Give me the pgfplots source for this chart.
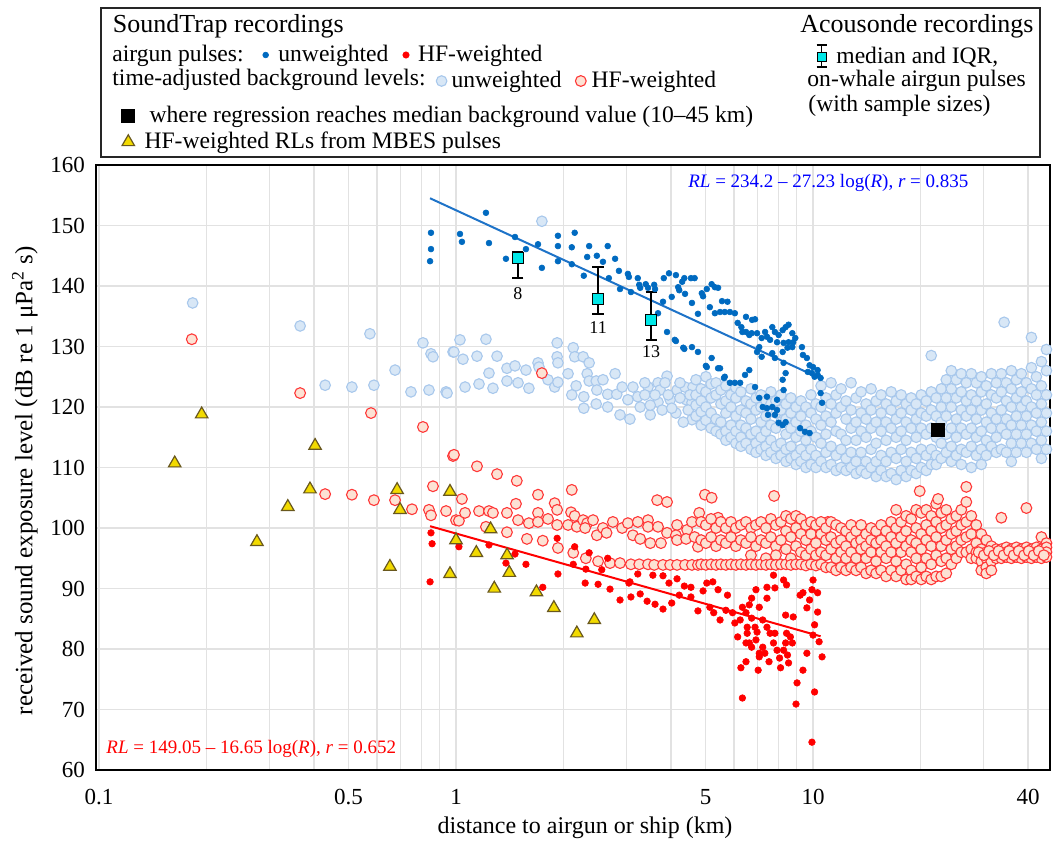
\documentclass[border=0pt]{standalone}
\usepackage{pgfplots}
\pgfplotsset{compat=1.18}
\usepackage{fontspec}
\setmainfont{Liberation Serif}

\definecolor{puU}{RGB}{0,106,192}
\definecolor{puH}{RGB}{255,0,0}
\definecolor{bgUfill}{RGB}{216,231,246}
\definecolor{bgUdraw}{RGB}{168,200,236}
\definecolor{bgHfill}{RGB}{252,226,212}
\definecolor{bgHdraw}{RGB}{255,55,55}
\definecolor{trifill}{RGB}{242,218,0}
\definecolor{triedge}{RGB}{105,88,30}
\definecolor{gridc}{RGB}{226,226,226}
\definecolor{lineU}{RGB}{30,115,200}
\definecolor{boxc}{RGB}{0,232,232}

\pgfplotsset{
  bgU/.style={only marks, mark=*, mark size=2.65pt, mark options={fill=bgUfill, draw=bgUdraw, line width=0.55pt}},
  bgH/.style={only marks, mark=*, mark size=2.7pt, mark options={fill=bgHfill, draw=bgHdraw, line width=0.55pt}},
  puUs/.style={only marks, mark=*, mark size=1.45pt, mark options={fill=puU, draw=puU, line width=0.3pt}},
  puHs/.style={only marks, mark=*, mark size=1.65pt, mark options={fill=puH, draw=puH, line width=0.3pt}},
  mbes/.style={only marks, mark=triangle*, mark size=3.6pt, mark options={fill=trifill, draw=triedge, line width=0.6pt}},
}

\newcommand{\LegEntry}[5]{%
\begin{axis}[hide axis, scale only axis, width=477pt, height=302.5pt, at={(0pt,0pt)}, anchor=south west,
  xmin=0, xmax=1, ymin=0, ymax=1,
  legend style={at={(#1,#2)}, anchor=west, draw=none, fill=none, inner sep=0pt, outer sep=0pt,
    column sep=#5, font=\fontsize{11.8}{14}\selectfont, nodes={inner sep=2pt}},
  legend cell align=left,
  legend image code/.code={\draw[##1] plot coordinates {(0pt,0pt)};}]
\addlegendimage{#3}
\addlegendentry{#4}
\end{axis}}

\begin{document}
\begin{tikzpicture}
\useasboundingbox (-48pt,-35.5pt) rectangle (478.5pt,385pt);

\begin{axis}[
  scale only axis, width=477pt, height=302.5pt, at={(0pt,0pt)}, anchor=south west,
  xmode=log, xmin=0.0981, xmax=46.1, ymin=60, ymax=160,
  xtick={0.1,0.5,1,5,10,40}, xticklabels={0.1,0.5,1,5,10,40},
  minor xtick={0.2,0.3,0.4,0.6,0.7,0.8,0.9,2,3,4,6,7,8,9,20,30},
  ytick={60,70,...,160},
  xmajorgrids, xminorgrids, ymajorgrids,
  major grid style={gridc, line width=0.75pt},
  minor grid style={gridc, line width=0.75pt},
  tick style={draw=none},
  axis line style={black, line width=0.9pt},
  /pgf/number format/assume math mode=true,
  tick label style={font=\fontsize{11.5}{13}\selectfont},
  xticklabel style={yshift=-6pt},
  yticklabel style={xshift=-2pt},
  xlabel={distance to airgun or ship (km)},
  ylabel={received sound exposure level (dB re 1 μPa\textsuperscript{2} s)},
  every axis x label/.style={at={(axis description cs:0.5126,-0.096)}, anchor=center, font=\fontsize{12}{14}\selectfont},
  every axis y label/.style={at={(axis description cs:-0.0745,0.478)}, anchor=center, rotate=90, font=\fontsize{12.5}{14}\selectfont},
]

% unweighted background (light blue circles)
\addplot[bgU] coordinates {
(0.183,137.2) (0.366,133.4) (0.574,132.1) (0.675,126.1) (0.430,123.6) (0.511,123.3) (0.589,123.6) (0.748,122.5) (0.840,122.8) (0.938,122.5) (0.808,130.6) (0.851,128.8) (0.862,128.3) (0.981,129.1)
(1.74,150.7)
(1.026,131.1) (0.987,129.1) (1.046,127.9) (1.145,128.4) (1.213,131.2) (1.237,125.6) (1.303,128.4) (1.269,123.1) (1.160,123.8) (1.060,123.3) (1.389,126.4) (1.389,124.3) (1.463,126.8) (1.492,124.0) (1.570,126.1) (1.600,123.1) (1.697,127.3) (1.708,126.6) (1.81,124.5) (1.89,123.3) (1.92,130.6) (1.92,128.3) (1.93,127.3) (1.93,124.1) (2.06,125.5) (2.13,129.8) (2.15,128.3) (2.17,123.5) (2.11,122.0) (2.27,128.3) (2.36,127.3) (2.33,125.5) (2.36,124.3) (2.28,121.7) (2.28,119.8) (2.47,124.3) (2.48,122.8) (2.47,120.5) (2.58,124.5) (2.66,122.1) (2.66,120.0) (2.79,125.5) (2.82,122.1) (2.92,123.3) (2.88,118.7) (3.03,121.2) (3.07,118.0) (3.13,123.3) (3.23,121.7) (3.28,120.0) (3.45,123.3) (3.50,118.7) (3.68,124.0) (3.73,122.8) (3.68,120.8) (3.90,125.1) (3.98,121.2) (4.16,122.8) (4.13,119.0) (4.38,123.3) (4.41,121.2) (4.61,123.3) (4.58,120.7) (4.58,117.9) (4.33,117.5) (0.944,122.3)
(3.38,122.0) (3.50,120.3) (3.61,122.0) (3.78,119.5) (3.93,122.0) (4.02,119.8) (4.24,121.5) (4.47,119.5) (4.52,122.0) (3.38,124.0) (3.85,124.0) (4.24,124.0)
(4.70,124.5) (4.70,122.0) (4.70,120.3) (4.70,118.5)
(4.86,123.0) (4.86,121.0) (4.86,119.2) (4.86,117.0)
(5.01,125.0) (5.01,122.5) (5.01,120.0) (5.01,117.8)
(5.18,123.8) (5.18,121.5) (5.18,119.0) (5.18,116.5)
(5.35,124.0) (5.35,122.0) (5.35,118.0) (5.35,116.0)
(5.52,122.8) (5.52,120.5) (5.52,117.5) (5.52,115.5)
(5.70,123.5) (5.70,121.0) (5.70,119.0) (5.70,116.0) (5.70,114.5)
(5.89,122.0) (5.89,120.0) (5.89,117.0) (5.89,115.0)
(6.08,123.2) (6.08,121.5) (6.08,118.5) (6.08,116.0) (6.08,114.0)
(6.28,122.5) (6.28,119.5) (6.28,117.0) (6.28,115.0) (6.28,113.5)
(6.49,121.0) (6.49,119.0) (6.49,116.5) (6.49,114.0)
(6.70,123.0) (6.70,120.5) (6.70,118.0) (6.70,115.5) (6.70,113.0)
(6.92,121.5) (6.92,119.5) (6.92,116.0) (6.92,114.0) (6.92,112.5)
(7.15,122.0) (7.15,120.0) (7.15,117.5) (7.15,115.0) (7.15,113.0)
(7.38,121.0) (7.38,118.5) (7.38,116.0) (7.38,113.5) (7.38,112.0)
(7.62,122.5) (7.62,120.5) (7.62,117.0) (7.62,114.5) (7.62,112.5)
(7.87,121.0) (7.87,119.0) (7.87,116.5) (7.87,113.5) (7.87,111.5)
(8.13,122.0) (8.13,119.5) (8.13,117.5) (8.13,114.0) (8.13,112.0)
(8.40,120.5) (8.40,118.0) (8.40,115.5) (8.40,113.0) (8.40,111.0)
(8.67,121.5) (8.67,119.0) (8.67,116.5) (8.67,113.5) (8.67,111.5)
(8.96,120.0) (8.96,117.5) (8.96,115.0) (8.96,112.0) (8.96,110.5)
(9.25,121.0) (9.25,118.5) (9.25,116.0) (9.25,113.0) (9.25,111.0)
(9.55,120.0) (9.55,117.0) (9.55,114.5) (9.55,112.0) (9.55,110.0)
(9.87,122.0) (9.87,119.0) (9.87,116.0) (9.87,113.0) (9.87,110.5)
(10.19,120.5) (10.19,118.0) (10.19,115.0) (10.19,112.0) (10.19,110.0)
(10.53,123.5) (10.53,120.0) (10.53,117.0) (10.53,114.0) (10.53,111.0)
(10.87,121.5) (10.87,118.5) (10.87,115.5) (10.87,112.5) (10.87,110.0)
(11.23,124.0) (11.23,120.5) (11.23,117.5) (11.23,113.5) (11.23,110.5)
(11.60,122.0) (11.60,119.0) (11.60,116.0) (11.60,112.0) (11.60,109.5)
(11.98,123.0) (11.98,120.0) (11.98,115.5) (11.98,113.0) (11.98,110.0)
(12.37,121.0) (12.37,118.0) (12.37,114.5) (12.37,111.5) (12.37,109.5)
(12.78,124.0) (12.78,119.5) (12.78,116.5) (12.78,112.5) (12.78,110.0)
(13.20,121.5) (13.20,117.5) (13.20,114.5) (13.20,111.0) (13.20,109.0)
(13.63,122.5) (13.63,119.0) (13.63,116.0) (13.63,112.5) (13.63,109.5)
(14.08,120.5) (14.08,118.0) (14.08,115.0) (14.08,111.0) (14.08,109.0)
(14.54,123.0) (14.54,119.5) (14.54,116.5) (14.54,113.0) (14.54,110.0)
(15.02,121.0) (15.02,117.5) (15.02,114.0) (15.02,111.0) (15.02,108.5)
(15.51,122.0) (15.51,119.0) (15.51,116.0) (15.51,112.0) (15.51,109.5)
(16.02,120.5) (16.02,117.5) (16.02,114.5) (16.02,111.0) (16.02,108.5)
(16.55,122.5) (16.55,119.5) (16.55,116.5) (16.55,112.5) (16.55,109.0)
(17.09,121.0) (17.09,118.0) (17.09,115.0) (17.09,111.5) (17.09,108.0)
(17.65,122.0) (17.65,119.0) (17.65,116.0) (17.65,113.0) (17.65,109.5)
(18.23,120.5) (18.23,117.5) (18.23,114.5) (18.23,111.0) (18.23,108.5)
(18.83,121.5) (18.83,119.5) (18.83,116.5) (18.83,112.5) (18.83,109.5)
(19.45,120.5) (19.45,118.0) (19.45,115.0) (19.45,111.5) (19.45,109.0)
(20.09,122.0) (20.09,119.0) (20.09,116.5) (20.09,113.0) (20.09,110.0)
(20.75,121.0) (20.75,118.5) (20.75,115.5) (20.75,112.0) (20.75,109.5)
(21.43,128.5) (21.43,122.5) (21.43,119.5) (21.43,116.5) (21.43,113.0) (21.43,110.5)
(22.13,121.5) (22.13,118.5) (22.13,115.0) (22.13,112.0) (22.13,110.5)
(22.86,123.0) (22.86,120.0) (22.86,117.5) (22.86,114.0) (22.86,111.5)
(23.61,124.5) (23.61,121.5) (23.61,118.5) (23.61,115.5) (23.61,112.5)
(24.39,126.0) (24.39,123.0) (24.39,120.0) (24.39,116.5) (24.39,113.5) (24.39,111.0)
(25.19,124.5) (25.19,121.5) (25.19,118.0) (25.19,115.0) (25.19,112.0)
(26.01,125.5) (26.01,122.5) (26.01,119.5) (26.01,116.5) (26.01,113.0) (26.01,110.5)
(26.87,124.0) (26.87,121.0) (26.87,118.5) (26.87,115.5) (26.87,112.5)
(27.75,125.5) (27.75,122.0) (27.75,119.5) (27.75,116.5) (27.75,113.5) (27.75,110.0)
(28.66,124.0) (28.66,121.0) (28.66,118.0) (28.66,115.0) (28.66,112.0)
(29.60,125.0) (29.60,122.5) (29.60,119.5) (29.60,116.0) (29.60,113.0) (29.60,110.5)
(30.57,123.5) (30.57,120.5) (30.57,117.5) (30.57,114.5) (30.57,112.0)
(31.58,125.5) (31.58,122.0) (31.58,119.0) (31.58,116.5) (31.58,113.5)
(32.61,124.0) (32.61,121.5) (32.61,118.0) (32.61,115.0) (32.61,112.5)
(33.68,125.5) (33.68,122.5) (33.68,119.5) (33.68,116.5) (33.68,113.0)
(34.3,134.0)
(34.79,124.0) (34.79,121.0) (34.79,118.0) (34.79,115.5) (34.79,112.5)
(35.93,126.0) (35.93,123.0) (35.93,120.0) (35.93,117.0) (35.93,114.0) (35.93,111.0)
(37.11,124.5) (37.11,121.5) (37.11,118.5) (37.11,115.5) (37.11,112.5)
(38.33,125.5) (38.33,122.5) (38.33,120.0) (38.33,117.0) (38.33,114.0)
(39.59,124.0) (39.59,121.0) (39.59,118.5) (39.59,115.5) (39.59,112.5)
(40.89,131.5) (40.89,126.5) (40.89,123.0) (40.89,120.0) (40.89,117.0) (40.89,114.0)
(42.23,125.0) (42.23,122.0) (42.23,119.0) (42.23,116.0) (42.23,113.0)
(43.62,127.5) (43.62,123.5) (43.62,120.5) (43.62,117.5) (43.62,114.5) (43.62,111.5)
(45.05,129.5) (45.05,126.0) (45.05,122.0) (45.05,119.0) (45.05,116.0) (45.05,113.0)
};

% HF-weighted background (red circles)
\addplot[bgH] coordinates {
(0.182,131.2) (0.366,122.3) (0.578,119.0) (0.808,116.7) (0.981,111.9) (0.430,105.6) (0.511,105.5) (0.589,104.6) (0.675,104.6) (0.753,103.1) (0.840,103.0) (0.938,102.8) (0.862,106.9) (0.851,102.1) (1.0,101.3) (1.74,125.6)
(0.987,112.1) (1.145,110.2) (1.303,108.9) (1.48,107.8) (1.697,105.5) (2.11,106.3) (1.039,104.8) (1.019,101.2) (1.060,102.5) (1.160,102.8) (1.237,102.8) (1.269,102.5) (1.389,102.5) (1.472,104.0) (1.492,101.3) (1.213,100.2) (1.389,99.3) (1.600,100.8) (1.697,102.5) (1.697,101.0) (1.81,101.5) (1.89,104.1) (1.92,103.0) (1.92,100.5) (1.58,98.2) (1.75,97.9) (1.93,96.7) (2.10,102.6) (2.06,100.5) (2.18,100.2) (2.15,102.0) (2.27,101.3) (2.33,100.8) (2.30,100.0) (2.42,101.3) (2.48,98.8) (2.58,100.0) (2.64,99.2)
(2.13,95.9) (2.31,95.0) (2.50,94.5) (2.70,94.2) (2.88,94.2) (3.09,94.0) (3.26,94.0) (3.45,94.0) (3.59,93.9) (3.80,93.9) (3.98,93.9) (4.16,93.9) (4.38,93.9) (4.58,93.9) (4.76,93.9)
(2.75,101.0) (2.92,100.0) (3.03,100.8) (3.13,98.8) (3.28,98.2) (3.23,101.0) (3.45,101.3) (3.45,100.2) (3.50,97.5) (3.68,100.2) (3.75,97.5) (3.90,99.2) (4.16,100.5) (4.13,98.8) (4.16,98.0) (4.44,99.7) (4.41,98.2) (4.58,101.0) (4.66,98.5) (4.76,96.9) (3.66,104.6) (3.90,104.3) (4.98,105.5) (5.20,105.0) (7.78,105.3) (4.80,102.5) (5.42,101.7) (11.0,101.0)
(4.86,101.0) (4.86,98.0) (4.86,94.0)
(5.01,100.5) (5.01,97.5) (5.01,93.9)
(5.18,101.5) (5.18,98.5) (5.18,94.0)
(5.35,100.0) (5.35,97.0) (5.35,93.9)
(5.52,101.0) (5.52,98.0) (5.52,94.0)
(5.70,100.0) (5.70,97.5) (5.70,93.9)
(5.89,101.0) (5.89,98.5) (5.89,94.0)
(6.08,100.0) (6.08,97.0) (6.08,93.9)
(6.28,100.5) (6.28,98.0) (6.28,94.0)
(6.49,101.0) (6.49,97.5) (6.49,93.9)
(6.70,100.0) (6.70,98.5) (6.70,95.5) (6.70,94.0)
(6.92,100.5) (6.92,97.0) (6.92,93.9)
(7.15,101.0) (7.15,98.0) (7.15,94.0)
(7.38,100.0) (7.38,97.5) (7.38,95.0) (7.38,93.9)
(7.62,101.5) (7.62,98.5) (7.62,94.0)
(7.87,100.5) (7.87,97.0) (7.87,95.5) (7.87,93.9)
(8.13,101.0) (8.13,98.0) (8.13,94.0)
(8.40,102.0) (8.40,99.5) (8.40,96.5) (8.40,94.0)
(8.67,101.5) (8.67,98.5) (8.67,95.0) (8.67,93.9)
(8.96,102.0) (8.96,100.0) (8.96,97.0) (8.96,94.0)
(9.25,101.5) (9.25,99.0) (9.25,96.0) (9.25,94.0)
(9.55,100.5) (9.55,98.0) (9.55,95.5) (9.55,93.8)
(9.87,101.0) (9.87,99.0) (9.87,96.5) (9.87,94.0)
(10.19,100.5) (10.19,97.5) (10.19,95.5) (10.19,93.8)
(10.53,101.0) (10.53,99.0) (10.53,96.0) (10.53,94.0)
(10.87,100.0) (10.87,98.0) (10.87,95.5) (10.87,93.5)
(11.23,101.0) (11.23,98.5) (11.23,96.5) (11.23,93.5)
(11.60,100.5) (11.60,97.5) (11.60,95.0) (11.60,93.0)
(11.98,100.0) (11.98,98.0) (11.98,96.0) (11.98,93.5)
(12.37,99.5) (12.37,97.0) (12.37,95.0) (12.37,93.0)
(12.78,100.5) (12.78,98.5) (12.78,96.0) (12.78,93.5)
(13.20,99.5) (13.20,97.5) (13.20,95.0) (13.20,93.0)
(13.63,100.5) (13.63,98.0) (13.63,96.5) (13.63,93.5)
(14.08,99.0) (14.08,97.0) (14.08,95.0) (14.08,92.5)
(14.54,100.0) (14.54,98.0) (14.54,96.0) (14.54,93.0)
(15.02,99.5) (15.02,97.5) (15.02,94.5) (15.02,92.5)
(15.51,100.5) (15.51,98.0) (15.51,96.0) (15.51,93.0)
(16.02,99.5) (16.02,97.0) (16.02,95.0) (16.02,92.0)
(16.55,101.0) (16.55,98.5) (16.55,96.0) (16.55,93.0)
(17.09,103.0) (17.09,100.0) (17.09,97.5) (17.09,94.5) (17.09,92.0)
(17.65,101.0) (17.65,98.5) (17.65,96.0) (17.65,93.0)
(18.23,102.0) (18.23,99.5) (18.23,97.0) (18.23,94.0) (18.23,91.5)
(18.83,101.5) (18.83,98.0) (18.83,96.0) (18.83,93.0) (18.83,91.5)
(19.45,103.0) (19.45,100.0) (19.45,97.5) (19.45,95.0) (19.45,92.0)
(19.9,106.1)
(20.09,102.5) (20.09,99.0) (20.09,96.5) (20.09,93.5) (20.09,91.5)
(20.75,103.0) (20.75,100.5) (20.75,98.0) (20.75,95.0) (20.75,92.0)
(21.43,102.0) (21.43,99.5) (21.43,97.0) (21.43,94.0) (21.43,91.5)
(22.13,104.0) (22.13,101.0) (22.13,98.5) (22.13,95.5) (22.13,92.0)
(22.4,104.8)
(22.86,102.5) (22.86,100.0) (22.86,97.0) (22.86,94.5) (22.86,92.0)
(23.61,103.0) (23.61,100.5) (23.61,98.0) (23.61,95.0) (23.61,92.5)
(24.39,101.5) (24.39,99.0) (24.39,96.5) (24.39,94.0)
(25.19,102.0) (25.19,99.5) (25.19,97.0) (25.19,95.0)
(26.01,103.0) (26.01,100.5) (26.01,98.0) (26.01,96.0)
(26.87,106.8) (26.87,104.3) (26.87,101.0) (26.87,98.5) (26.87,96.0)
(27.75,102.0) (27.75,99.0) (27.75,96.5) (27.75,95.0)
(28.66,100.5) (28.66,97.5) (28.66,96.0) (28.66,95.0)
(29.60,99.0) (29.60,96.5) (29.60,95.5) (29.60,94.5) (29.60,93.0)
(30.57,98.0) (30.57,96.0) (30.57,95.0) (30.57,93.5) (30.57,92.5)
(31.58,97.0) (31.58,95.5) (31.58,94.5) (31.58,93.0)
(32.61,96.5) (32.61,95.8) (32.61,95.0)
(33.68,101.7) (33.68,96.5) (33.68,95.8) (33.68,95.0)
(34.79,96.8) (34.79,96.0) (34.79,95.2)
(35.93,96.5) (35.93,95.8) (35.93,95.0)
(37.11,96.8) (37.11,96.0) (37.11,95.2)
(38.33,96.5) (38.33,95.8) (38.33,95.0)
(39.59,103.3) (39.59,96.8) (39.59,96.0) (39.59,95.2)
(40.89,96.5) (40.89,95.8) (40.89,95.0)
(42.23,96.8) (42.23,96.0) (42.23,95.2)
(43.62,98.5) (43.62,96.5) (43.62,95.8) (43.62,95.0)
(45.05,97.5) (45.05,96.8) (45.05,96.0) (45.05,95.2)
(29.1,96.0) (30.1,95.5) (31.1,96.2) (32.1,95.5) (33.1,96.2) (34.2,95.5) (35.4,96.2) (36.5,95.5) (37.7,96.2) (39.0,95.5) (40.2,96.2) (41.5,95.5) (42.9,96.2) (44.3,95.5)
};

% unweighted airgun pulses (blue dots)
\addplot[puUs] coordinates {
(0.851,148.8) (0.851,146.1) (0.846,144.1) (1.026,148.6) (1.039,147.3) (1.213,152.1) (1.237,147.1) (1.380,144.5) (1.463,148.1) (1.570,146.1) (1.697,146.9) (1.740,143.0) (1.93,148.3) (1.93,146.6) (1.93,144.1) (2.11,146.4) (2.15,148.8) (2.11,143.6) (2.28,141.7) (2.33,144.8) (2.36,146.6) (2.48,145.0) (2.58,144.0) (2.66,146.6) (2.68,141.3) (2.79,144.5) (2.86,142.5) (2.88,139.5) (3.03,142.0) (3.05,141.5) (3.09,139.0) (3.23,141.3) (3.26,140.2) (3.28,139.7) (3.40,140.3) (3.45,139.7) (3.59,140.2) (3.61,139.5) (3.68,135.5) (3.80,137.4) (3.82,141.3) (3.90,132.4) (3.95,142.1) (4.13,130.9) (4.02,138.2) (4.36,129.6) (4.58,129.9) (4.76,129.1) (5.01,126.8) (5.20,128.1) (5.42,126.4)
(4.13,141.8) (4.30,140.7) (4.36,141.3) (4.55,141.3) (4.66,141.3) (4.19,139.8) (4.38,138.7) (4.58,137.2) (4.76,135.4) (4.88,138.8) (4.92,138.3) (5.04,139.5) (5.20,140.3) (5.31,139.8) (5.42,139.7) (5.14,136.5) (5.56,137.5) (5.76,137.4) (5.31,135.5) (5.49,135.7) (5.66,135.7) (5.85,135.7) (6.04,135.5) (6.15,133.9) (6.30,133.2) (6.49,134.9) (6.75,134.4) (6.88,134.5) (6.34,132.4) (6.49,132.4) (6.63,131.9) (6.73,132.2) (6.97,132.2) (7.18,131.4) (7.34,132.4) (7.43,131.6) (7.69,133.2) (7.82,132.4) (8.01,131.9) (8.22,132.7) (8.38,133.2) (8.54,133.6) (8.75,132.2) (8.92,131.4) (8.54,130.7) (8.27,130.6) (7.93,130.7) (7.58,131.1) (7.07,129.9) (6.97,129.1) (7.18,128.3) (7.69,128.9) (7.82,128.1) (8.22,129.1) (8.48,129.8) (8.75,129.9) (8.80,130.7) (9.31,129.9) (9.37,128.6) (9.61,128.1) (9.78,126.9) (10.0,126.6) (10.3,126.1) (10.3,125.3) (10.1,125.0) (10.5,124.8) (9.67,125.8) (9.93,125.6)
(5.04,126.6) (5.66,125.0) (5.85,124.0) (6.04,124.0) (6.25,124.0) (6.45,125.3) (6.63,126.1) (6.88,123.3) (7.07,121.5) (7.23,120.0) (7.43,119.8) (7.48,118.7) (7.69,120.0) (7.82,118.7) (8.01,117.4) (8.22,117.0) (8.38,117.5) (7.93,119.5) (7.43,121.7) (7.93,121.2) (8.27,122.8) (8.22,124.5) (8.38,125.6) (8.27,127.3) (9.20,116.5) (9.49,115.9) (9.78,115.7) (10.5,122.3) (10.6,120.7) (4.10,131.1) (4.33,129.8) (5.49,126.4) (5.63,124.8) (4.22,139.3)
};

% HF-weighted airgun pulses (red dots)
\addplot[puHs] coordinates {
(0.851,99.2) (0.857,97.4) (0.846,91.1) (1.019,96.9) (1.237,97.2) (1.380,94.2) (1.463,95.7) (1.570,94.0) (1.75,90.2) (1.92,98.3) (1.93,92.4) (2.13,94.0) (2.15,96.9) (2.30,90.9) (2.31,93.2) (2.36,95.9) (2.50,90.7) (2.56,93.1) (2.70,89.9) (2.66,95.0) (2.88,88.1) (3.05,90.9) (3.09,88.6) (3.28,89.1) (3.23,92.4) (3.43,87.9) (3.61,87.4) (3.80,92.1) (3.95,90.9) (4.02,87.6) (3.80,86.6) (4.16,91.6) (4.36,90.4) (4.55,90.2) (4.55,88.6) (4.76,86.3) (4.92,89.6) (5.04,90.9) (5.24,91.1) (5.42,89.8) (5.14,86.9) (5.27,86.0) (5.49,84.8) (5.76,88.9) (5.70,86.4) (5.95,86.0) (6.04,84.3) (6.15,82.0) (6.49,81.0) (6.49,77.9) (6.34,71.9) (6.34,86.9) (6.49,86.0) (6.63,87.3) (6.73,88.4) (6.92,89.8) (6.73,85.1) (6.88,83.6) (6.97,82.8) (6.92,81.5) (7.07,79.3) (7.02,76.5) (7.23,84.8) (7.43,83.6) (7.33,79.3) (7.53,77.9) (7.58,82.6) (7.75,81.0) (7.82,82.6) (7.93,79.8) (8.06,78.5) (8.11,76.9) (8.27,79.8) (8.38,81.0) (8.48,79.0) (8.54,77.7) (8.43,82.6) (8.64,82.0) (8.75,81.0) (8.38,85.6) (8.80,85.3) (9.20,88.9) (9.37,89.3) (9.61,86.8) (9.61,79.3) (9.37,76.5) (9.02,74.4) (8.96,70.9) (9.93,64.6) (9.78,88.1) (9.93,89.8) (10.0,91.4) (10.3,89.3) (10.3,86.1) (10.1,84.0) (10.4,81.2) (10.6,78.7) (10.0,82.3) (10.1,72.9) (7.43,90.2) (7.82,90.1) (7.75,92.2) (8.27,91.4) (8.43,90.6) (7.43,88.4) (7.07,86.9) (6.54,83.6) (6.25,84.8) (6.54,82.6) (6.63,81.0) (6.73,80.3) (7.07,78.7) (7.23,80.3) (3.07,91.1) (3.56,92.2) (4.22,88.9) (6.28,76.9)
};

% regression lines
\addplot[lineU, line width=1pt, no marks] coordinates {(0.846,154.5) (10.5,124.7)};
\addplot[puH, line width=1pt, no marks] coordinates {(0.846,100.3) (10.5,82.1)};

% MBES triangles
\addplot[mbes] coordinates {
(0.163,110.7) (0.194,118.8) (0.277,97.7) (0.338,103.5) (0.390,106.4) (0.403,113.6) (0.653,93.6) (0.684,106.3) (0.697,103.0) (0.962,106.0) (0.962,92.4) (1.0,98.0) (1.14,95.9) (1.25,99.8) (1.28,90.0) (1.39,95.5) (1.41,92.6) (1.68,89.4) (1.88,86.8) (2.18,82.6) (2.44,84.8)
};

% Acousonde median and IQR
\addplot[only marks, mark=square*, mark size=2.7pt, mark options={fill=boxc, draw=black, line width=0.5pt},
  error bars/.cd, y dir=both, y explicit, error bar style={black, line width=0.8pt},
  error mark options={rotate=90, mark size=2.8pt, black, line width=0.8pt}]
coordinates {
(1.49,144.6) += (0,1.0) -= (0,3.3)
(2.50,137.9) += (0,5.2) -= (0,2.5)
(3.52,134.4) += (0,4.6) -= (0,3.3)
};

% regression reaches median background
\addplot[only marks, mark=square*, mark size=3.3pt, mark options={fill=black, draw=black}] coordinates {(22.4,116.2)};

\node[font=\fontsize{9}{10}\selectfont] at (axis cs:1.49,138.7) {8};
\node[font=\fontsize{9}{10}\selectfont] at (axis cs:2.50,133.1) {11};
\node[font=\fontsize{9}{10}\selectfont] at (axis cs:3.52,129.1) {13};

\node[anchor=west, inner sep=0pt, text=blue, font=\fontsize{9.5}{11}\selectfont] at (rel axis cs:0.6205,0.970)
  {\textit{RL} = 234.2 – 27.23 log(\textit{R}), \textit{r} = 0.835};
\node[anchor=west, inner sep=0pt, text=red, font=\fontsize{9.5}{11}\selectfont] at (rel axis cs:0.0105,0.0347)
  {\textit{RL} = 149.05 – 16.65 log(\textit{R}), \textit{r} = 0.652};
\end{axis}

% legend box and texts
\draw[black!85, line width=0.8pt] (2.5pt,306.5pt) rectangle (472pt,381pt);
\node[anchor=base west, inner sep=0pt, font=\fontsize{13}{15}\selectfont] at (8.25pt,368.5pt) {SoundTrap recordings};
\node[anchor=base west, inner sep=0pt, font=\fontsize{11.8}{14}\selectfont] at (8pt,354pt) {airgun pulses:};
\node[anchor=base west, inner sep=0pt, font=\fontsize{11.8}{14}\selectfont] at (8pt,342pt) {time-adjusted background levels:};
\node[anchor=base west, inner sep=0pt, font=\fontsize{13}{15}\selectfont] at (352pt,368.5pt) {Acousonde recordings};
\node[anchor=base west, inner sep=0pt, font=\fontsize{11.8}{14}\selectfont] at (355.5pt,341.5pt) {on-whale airgun pulses};
\node[anchor=base west, inner sep=0pt, font=\fontsize{11.8}{14}\selectfont] at (356pt,329pt) {(with sample sizes)};

\LegEntry{0.1748}{1.1818}{mark=*, mark size=1.45pt, mark options={fill=puU, draw=puU, line width=0.3pt}}{unweighted}{2.9pt}
\LegEntry{0.3216}{1.1818}{mark=*, mark size=1.6pt, mark options={fill=puH, draw=puH, line width=0.3pt}}{HF-weighted}{2.4pt}
\LegEntry{0.3567}{1.1388}{mark=*, mark size=2.65pt, mark options={fill=bgUfill, draw=bgUdraw, line width=0.55pt}}{unweighted}{0.3pt}
\LegEntry{0.5025}{1.1388}{mark=*, mark size=2.7pt, mark options={fill=bgHfill, draw=bgHdraw, line width=0.55pt}}{HF-weighted}{0.7pt}
\LegEntry{0.0262}{1.0810}{mark=square*, mark size=3.4pt, mark options={fill=black, draw=black}}{where regression reaches median background value (10–45 km)}{5.5pt}
\LegEntry{0.0273}{1.0380}{mark=triangle*, mark size=3.6pt, mark options={fill=trifill, draw=triedge, line width=0.6pt}}{HF-weighted RLs from MBES pulses}{3pt}

\begin{axis}[hide axis, scale only axis, width=477pt, height=302.5pt, at={(0pt,0pt)}, anchor=south west,
  xmin=0, xmax=1, ymin=0, ymax=1,
  legend style={at={(0.7547,1.1785)}, anchor=west, draw=none, fill=none, inner sep=0pt, outer sep=0pt,
    column sep=2.5pt, font=\fontsize{11.8}{14}\selectfont, nodes={inner sep=2pt}},
  legend cell align=left,
  legend image code/.code={
    \draw[black, line width=0.7pt] (0pt,-5pt) -- (0pt,6pt);
    \draw[black, line width=0.7pt] (-2.5pt,6pt) -- (2.5pt,6pt) (-2.5pt,-5pt) -- (2.5pt,-5pt);
    \draw[black, fill=boxc, line width=0.5pt] (-2.2pt,-2.2pt) rectangle (2.2pt,2.2pt);}]
\addlegendimage{black}
\addlegendentry{median and IQR,}
\end{axis}
\end{tikzpicture}
\end{document}
